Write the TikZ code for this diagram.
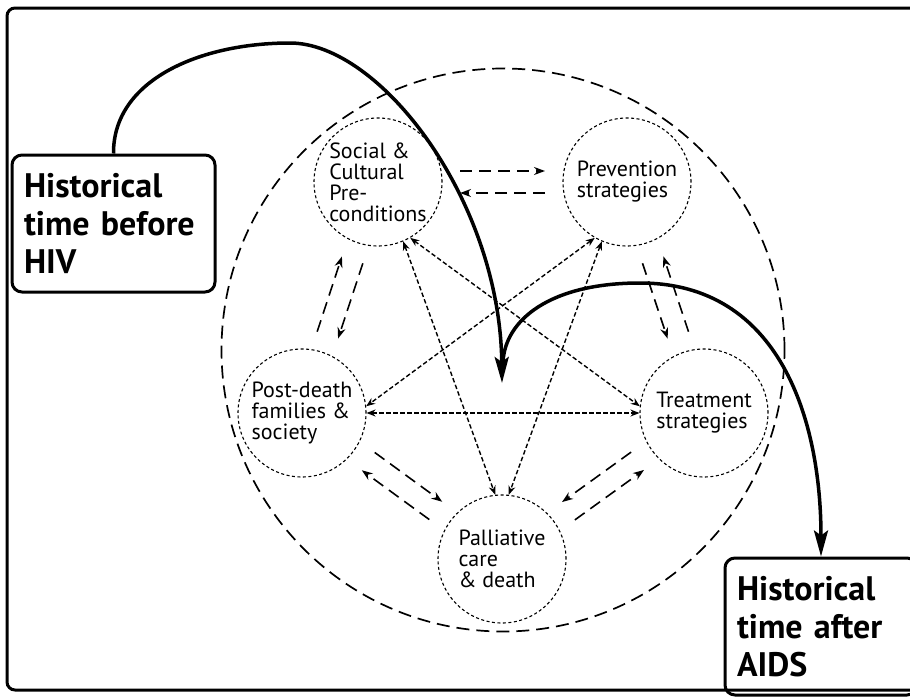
\documentclass[tikz,border=0pt]{standalone}
\usepackage{fontspec}
\setmainfont{PT Sans}
\usetikzlibrary{arrows.meta,calc,shapes}

\begin{document}
\begin{tikzpicture}[x=1pt,y=-1pt]
	\tikzset{topic/.style={circle,draw,dash pattern=on 3pt off 2.5pt,line width=1.1pt,minimum size=128pt,inner sep=-5pt,align=left,font=\fontsize{22}{21}\selectfont}}
	\tikzset{era/.style={draw,line width=3pt,rounded corners=10pt,minimum height=137pt,inner xsep=12pt,align=left,font=\fontsize{34}{38}\selectfont\bfseries}}
	\tikzset{ring/.style={circle,draw,dash pattern=on 13pt off 7pt,line width=1.7pt,minimum size=563pt}}
	\tikzset{twoway/.style={dash pattern=on 12pt off 7pt,line width=1.6pt,shorten <=82pt,shorten >=82pt,-{Stealth[length=11pt,width=8pt]}}}
	\tikzset{link/.style={dash pattern=on 4.5pt off 2.5pt,line width=1.4pt,{Stealth[length=9pt,width=7pt]}-{Stealth[length=9pt,width=7pt]}}}
	\tikzset{timeline/.style={line width=3.5pt,-{Stealth[length=26pt,width=14pt,inset=5pt]}}}
	\useasboundingbox (0,0) rectangle (910,696);
	\fill[white] (0,0) rectangle (910,696);
	\draw[line width=3pt,rounded corners=8pt] (7,8) rectangle (935,690);
	% the large ring and the five stages
	\node[ring] (ring) at (503,350) {};
	\node[topic] (social) at (378,182) {Social \&\\Cultural\\Pre-\\conditions};
	\node[topic] (prev) at (627,182) {Prevention\\strategies};
	\node[topic] (post) at (302,413) {Post-death\\families \&\\society};
	\node[topic] (treat) at (704,413) {Treatment\\strategies};
	\node[topic] (pall) at (502,559) {Palliative\\care\\\& death};
	% neighbouring stages
	\draw[twoway] ($(social)!11pt!90:(prev)$) -- ($(prev)!11pt!-90:(social)$);
	\draw[twoway] ($(prev)!11pt!90:(social)$) -- ($(social)!11pt!-90:(prev)$);
	\draw[twoway] ($(social)!11pt!90:(post)$) -- ($(post)!11pt!-90:(social)$);
	\draw[twoway] ($(post)!11pt!90:(social)$) -- ($(social)!11pt!-90:(post)$);
	\draw[twoway] ($(prev)!11pt!-90:(treat)$) -- ($(treat)!11pt!90:(prev)$);
	\draw[twoway] ($(treat)!11pt!-90:(prev)$) -- ($(prev)!11pt!90:(treat)$);
	\draw[twoway] ($(post)!11pt!90:(pall)$) -- ($(pall)!11pt!-90:(post)$);
	\draw[twoway] ($(pall)!11pt!90:(post)$) -- ($(post)!11pt!-90:(pall)$);
	\draw[twoway] ($(treat)!11pt!-90:(pall)$) -- ($(pall)!11pt!90:(treat)$);
	\draw[twoway] ($(pall)!11pt!-90:(treat)$) -- ($(treat)!11pt!90:(pall)$);
	% across the ring
	\draw[link] (post.east) -- (treat.west);
	\draw[link] (social.-67) -- (pall.96);
	\draw[link] (prev.-113) -- (pall.84);
	\draw[link] (social.-60) -- (treat.174);
	\draw[link] (prev.-120) -- (post.6);
	% historical time
	\node[era,text width=179pt] (before) at (113.5,223.5) {Historical\\time before\\HIV};
	\node[era,text width=168pt] (after) at (821,626.5) {Historical\\time after\\AIDS};
	\coordinate (hub) at (502,383);
	\coordinate (hubtop) at (503,362);
	\draw[timeline] (before.north) .. controls (113,80) and (200,43) .. (290,43) .. controls (380,43) and (500,200) .. (hub);
	\draw[timeline] (hubtop) .. controls (505,320) and (550,283) .. (640,283) .. controls (780,283) and (821,420) .. (after.north);
\end{tikzpicture}
\end{document}
